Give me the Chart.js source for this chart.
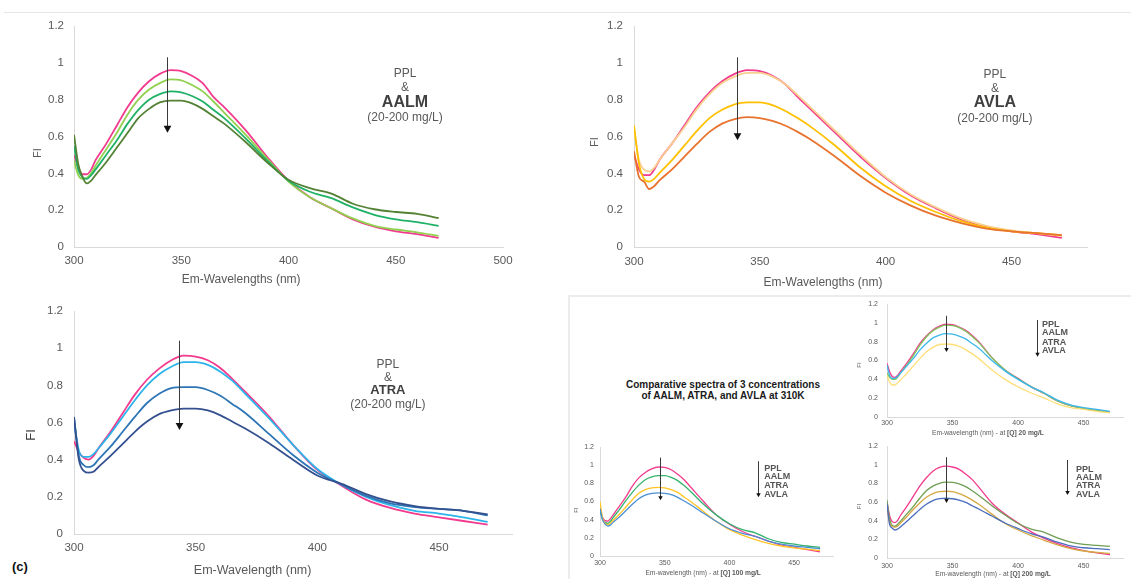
<!DOCTYPE html>
<html><head><meta charset="utf-8">
<script src="https://cdn.jsdelivr.net/npm/chart.js@4.4.1/dist/chart.umd.min.js"></script>
<style>
body{margin:0;width:1131px;height:579px;background:#fff;position:relative;overflow:hidden;font-family:"Liberation Sans",Arial,sans-serif}
canvas{position:absolute}
#sep{position:absolute;left:4px;top:12px;width:1127px;height:0;border-top:1px solid #e6e6e6}
#box{position:absolute;left:568px;top:295px;width:580px;height:300px;border-top:2px solid #ececec;border-left:2px solid #ececec}
#boxTitle{position:absolute;left:600px;top:380px;width:246px;text-align:center;font-weight:bold;font-size:10px;line-height:10.5px;color:#1a1a1a}
#lblC{position:absolute;left:12px;top:559px;font-weight:bold;font-size:13px;color:#111}
</style></head><body>
<div id="sep"></div>
<div id="box"></div>
<div id="boxTitle">Comparative spectra of 3 concentrations<br>of AALM, ATRA, and AVLA at 310K</div>
<div id="lblC">(c)</div>
<canvas id="cA"></canvas><canvas id="cB"></canvas><canvas id="cC"></canvas>
<canvas id="cD"></canvas><canvas id="cE"></canvas><canvas id="cF"></canvas>
<script>
// ---------- data ----------
const WAVELENGTHS = [300,302,304,306,308,310,315,320,325,330,335,340,345,350,355,360,365,370,380,390,400,410,420,430,440,450,460,470];
const Y_TICKS = [0,0.2,0.4,0.6,0.8,1,1.2];
const X_TICKS_A = [300,350,400,450,500];
const X_TICKS = [300,350,400,450];

// (a) PPL & AALM (20-200 mg/L)
const A_PPL   = [0.50,0.43,0.395,0.395,0.42,0.47,0.56,0.66,0.76,0.84,0.90,0.94,0.96,0.955,0.93,0.89,0.815,0.76,0.635,0.49,0.36,0.27,0.21,0.15,0.11,0.085,0.07,0.05];
const A_AALM1 = [0.47,0.39,0.37,0.375,0.40,0.44,0.53,0.62,0.72,0.80,0.855,0.89,0.91,0.905,0.88,0.845,0.79,0.73,0.61,0.48,0.355,0.27,0.21,0.155,0.115,0.095,0.08,0.06];
const A_AALM2 = [0.55,0.42,0.38,0.37,0.39,0.42,0.50,0.58,0.67,0.745,0.80,0.83,0.845,0.84,0.82,0.79,0.745,0.70,0.59,0.47,0.36,0.30,0.265,0.215,0.175,0.15,0.135,0.115];
const A_AALM3 = [0.61,0.45,0.38,0.345,0.36,0.39,0.46,0.54,0.62,0.70,0.75,0.785,0.795,0.795,0.78,0.75,0.71,0.67,0.57,0.46,0.365,0.32,0.29,0.235,0.205,0.19,0.18,0.157];
// (b) PPL & AVLA
const B_PPL   = [0.50,0.42,0.39,0.39,0.42,0.47,0.56,0.66,0.76,0.84,0.90,0.94,0.96,0.955,0.93,0.885,0.815,0.75,0.62,0.49,0.375,0.28,0.21,0.15,0.11,0.085,0.07,0.05];
const B_AVLA1 = [0.64,0.47,0.42,0.41,0.43,0.47,0.56,0.65,0.75,0.83,0.89,0.925,0.945,0.945,0.925,0.885,0.825,0.76,0.63,0.50,0.38,0.285,0.215,0.155,0.115,0.09,0.075,0.06];
const B_AVLA2 = [0.66,0.45,0.37,0.355,0.37,0.40,0.47,0.55,0.63,0.70,0.745,0.775,0.785,0.785,0.77,0.74,0.70,0.655,0.55,0.43,0.33,0.25,0.19,0.14,0.105,0.085,0.075,0.065];
const B_AVLA3 = [0.52,0.38,0.355,0.315,0.33,0.36,0.42,0.49,0.56,0.625,0.67,0.695,0.705,0.70,0.685,0.66,0.625,0.585,0.49,0.385,0.295,0.225,0.17,0.13,0.10,0.085,0.075,0.065];
// (c) PPL & ATRA
const C_PPL   = [0.50,0.44,0.41,0.40,0.42,0.46,0.55,0.65,0.75,0.83,0.89,0.935,0.96,0.955,0.935,0.895,0.835,0.77,0.635,0.48,0.345,0.26,0.185,0.14,0.11,0.09,0.07,0.05];
const C_ATRA1 = [0.60,0.45,0.415,0.415,0.43,0.46,0.54,0.63,0.72,0.80,0.86,0.90,0.925,0.925,0.91,0.875,0.825,0.76,0.625,0.48,0.35,0.265,0.20,0.155,0.125,0.11,0.09,0.065];
const C_ATRA2 = [0.63,0.42,0.37,0.36,0.37,0.40,0.47,0.55,0.63,0.705,0.755,0.785,0.79,0.79,0.775,0.745,0.70,0.655,0.54,0.425,0.33,0.265,0.205,0.165,0.145,0.135,0.125,0.10];
const C_ATRA3 = [0.63,0.40,0.34,0.33,0.335,0.36,0.42,0.485,0.55,0.605,0.645,0.665,0.675,0.675,0.665,0.64,0.605,0.57,0.49,0.40,0.315,0.27,0.215,0.175,0.15,0.135,0.125,0.105];
// [Q] 20 mg/L
const D_PPL  = [0.57,0.48,0.43,0.42,0.44,0.48,0.57,0.67,0.78,0.86,0.925,0.965,0.985,0.98,0.955,0.92,0.865,0.80,0.63,0.50,0.41,0.32,0.25,0.17,0.12,0.09,0.07,0.055];
const D_AALM = [0.47,0.42,0.40,0.40,0.42,0.46,0.55,0.65,0.76,0.85,0.915,0.955,0.975,0.97,0.95,0.91,0.855,0.79,0.63,0.50,0.405,0.32,0.25,0.17,0.12,0.09,0.07,0.05];
const D_ATRA = [0.55,0.44,0.41,0.41,0.43,0.46,0.54,0.62,0.71,0.78,0.84,0.87,0.885,0.88,0.86,0.83,0.78,0.73,0.60,0.49,0.40,0.32,0.255,0.18,0.13,0.10,0.08,0.06];
const D_AVLA = [0.44,0.37,0.34,0.34,0.36,0.39,0.46,0.54,0.62,0.69,0.74,0.77,0.775,0.77,0.75,0.715,0.67,0.62,0.50,0.40,0.32,0.255,0.20,0.14,0.10,0.08,0.06,0.045];
// [Q] 100 mg/L
const E_PPL  = [0.52,0.42,0.39,0.385,0.41,0.45,0.55,0.65,0.77,0.86,0.92,0.96,0.98,0.975,0.95,0.90,0.84,0.76,0.60,0.45,0.35,0.27,0.215,0.165,0.12,0.095,0.07,0.045];
const E_AALM = [0.50,0.40,0.37,0.36,0.38,0.42,0.51,0.61,0.70,0.78,0.84,0.87,0.885,0.885,0.865,0.83,0.775,0.71,0.57,0.45,0.355,0.29,0.255,0.19,0.15,0.13,0.11,0.095];
const E_ATRA = [0.52,0.40,0.35,0.33,0.34,0.37,0.43,0.50,0.57,0.63,0.67,0.69,0.695,0.69,0.675,0.645,0.605,0.565,0.47,0.38,0.30,0.25,0.215,0.165,0.13,0.11,0.095,0.08];
const E_AVLA = [0.60,0.42,0.36,0.345,0.36,0.39,0.46,0.54,0.62,0.69,0.73,0.75,0.755,0.75,0.73,0.70,0.65,0.60,0.49,0.38,0.29,0.23,0.18,0.14,0.11,0.09,0.075,0.06];
// [Q] 200 mg/L
const F_PPL  = [0.60,0.45,0.39,0.38,0.40,0.45,0.55,0.66,0.77,0.86,0.93,0.97,0.985,0.975,0.95,0.90,0.84,0.76,0.59,0.47,0.375,0.28,0.21,0.155,0.11,0.08,0.055,0.035];
const F_AALM = [0.62,0.42,0.35,0.34,0.36,0.39,0.47,0.55,0.64,0.72,0.77,0.80,0.812,0.81,0.795,0.765,0.72,0.67,0.56,0.46,0.37,0.31,0.275,0.215,0.17,0.145,0.135,0.125];
const F_ATRA = [0.58,0.36,0.32,0.30,0.31,0.33,0.39,0.455,0.52,0.575,0.615,0.635,0.64,0.635,0.62,0.595,0.56,0.525,0.45,0.375,0.315,0.26,0.22,0.17,0.13,0.11,0.10,0.09];
const F_AVLA = [0.55,0.38,0.34,0.33,0.34,0.37,0.44,0.52,0.59,0.65,0.69,0.71,0.715,0.71,0.69,0.66,0.62,0.575,0.47,0.37,0.30,0.24,0.19,0.14,0.10,0.075,0.06,0.05];

// text labels
const Y_TITLE = 'FI';
const X_TITLE_AB = 'Em-Wavelengths (nm)';
const X_TITLE_C = 'Em-Wavelength (nm)';
const X_TITLE_SMALL = 'Em-wavelength (nm) - at ';
const Q_LABELS = ['[Q] 20 mg/L', '[Q] 100 mg/L', '[Q] 200 mg/L'];
const NOTE_AALM = ['PPL', '&', 'AALM', '(20-200 mg/L)'];
const NOTE_AVLA = ['PPL', '&', 'AVLA', '(20-200 mg/L)'];
const NOTE_ATRA = ['PPL', '&', 'ATRA', '(20-200 mg/L)'];
const SMALL_LEGEND = ['PPL', 'AALM', 'ATRA', 'AVLA'];

// ---------- drawing ----------
const FONT = '"Liberation Sans", Arial, sans-serif';
const GRAY = '#595959';
const PINK = '#f23a8e';

const notesPlugin = {
  id: 'notes',
  afterDatasetsDraw(chart, args, opts) {
    const ctx = chart.ctx, xs = chart.scales.x, ys = chart.scales.y;
    (opts.arrows || []).forEach(a => {
      const x = Math.round(xs.getPixelForValue(a.x)) + 0.5;
      const y1 = ys.getPixelForValue(a.from), y2 = ys.getPixelForValue(a.to);
      const h = a.head;
      ctx.save();
      ctx.strokeStyle = a.color || '#3a3a3a'; ctx.lineWidth = 1;
      ctx.beginPath(); ctx.moveTo(x, y1); ctx.lineTo(x, y2 - h * 0.5); ctx.stroke();
      ctx.fillStyle = '#111';
      ctx.beginPath(); ctx.moveTo(x - h * 0.55, y2 - h); ctx.lineTo(x + h * 0.55, y2 - h); ctx.lineTo(x, y2); ctx.closePath(); ctx.fill();
      ctx.restore();
    });
    (opts.texts || []).forEach(t => {
      const x = xs.getPixelForValue(t.x), y = ys.getPixelForValue(t.y);
      const segs = t.segs || [{s: t.s, w: t.w}];
      ctx.save();
      ctx.translate(x, y);
      if (t.rot) ctx.rotate(t.rot * Math.PI / 180);
      ctx.textBaseline = 'middle'; ctx.textAlign = 'left';
      ctx.fillStyle = t.c || GRAY;
      const fontOf = w => (w || 'normal') + ' ' + t.size + 'px ' + FONT;
      let total = 0;
      segs.forEach(g => { ctx.font = fontOf(g.w); g.width = ctx.measureText(g.s).width; total += g.width; });
      let cx = t.align === 'left' ? 0 : -total / 2;
      segs.forEach(g => { ctx.font = fontOf(g.w); ctx.fillText(g.s, cx, 0); cx += g.width; });
      ctx.restore();
    });
  }
};

function makeChart(id, cfg) {
  const c = document.getElementById(id);
  const [bx, by, bw, bh] = cfg.box;
  const [l, t, r, b] = cfg.area;
  c.style.left = bx + 'px'; c.style.top = by + 'px';
  c.width = bw; c.height = bh; c.style.width = bw + 'px'; c.style.height = bh + 'px';
  const yW = l - bx, xH = by + bh - b;
  new Chart(c, {
    type: 'line',
    data: {
      labels: WAVELENGTHS,
      datasets: cfg.series.map(s => ({
        data: s[0], borderColor: s[1], borderWidth: cfg.lw, pointRadius: 0,
        fill: false, cubicInterpolationMode: 'monotone'
      }))
    },
    options: {
      responsive: false, animation: false, devicePixelRatio: 1,
      layout: { padding: { left: 0, top: t - by, right: bx + bw - r, bottom: 0 } },
      plugins: { legend: { display: false }, tooltip: { enabled: false }, notes: cfg.notes },
      scales: {
        x: {
          type: 'linear', min: 300, max: cfg.xmax,
          grid: { display: false, drawTicks: false },
          border: { display: true, color: '#d9d9d9', width: 1 },
          ticks: { padding: cfg.xtp, color: GRAY, font: { size: cfg.tf, family: FONT }, maxRotation: 0, autoSkip: false },
          afterBuildTicks: s => { s.ticks = cfg.xticks.map(v => ({ value: v })); },
          afterFit: s => { s.height = xH; }
        },
        y: {
          min: 0, max: 1.2,
          grid: { display: false, drawTicks: false },
          border: { display: true, color: '#d9d9d9', width: 1 },
          ticks: { padding: cfg.ytp, color: GRAY, font: { size: cfg.tf, family: FONT },
                   callback: v => String(Math.round(v * 10) / 10) },
          afterBuildTicks: s => { s.ticks = Y_TICKS.map(v => ({ value: v })); },
          afterFit: s => { s.width = yW; }
        }
      }
    },
    plugins: [notesPlugin]
  });
}

function bigNote(x, ys, labels, boldSize) {
  return labels.map((s, i) => ({ x: x, y: ys[i], s: s, size: i === 2 ? boldSize : 12, w: i === 2 ? 'bold' : 'normal', c: i === 2 ? '#404040' : GRAY }));
}
function smallLegend(x, ys) {
  return SMALL_LEGEND.map((s, i) => ({ x: x, y: ys[i], s: s, size: 9, w: 'bold', align: 'left', c: '#555' }));
}

// (a)
makeChart('cA', {
  box: [0, 6, 560, 288], area: [74, 26, 503, 247], xmax: 500, xticks: X_TICKS_A,
  tf: 11.5, xtp: 7, ytp: 10, lw: 1.8,
  series: [[A_AALM3, '#548235'], [A_AALM2, '#1fb266'], [A_AALM1, '#92d050'], [A_PPL, PINK]],
  notes: {
    arrows: [{ x: 343.3, from: 1.03, to: 0.62, head: 7 }],
    texts: [
      { x: 377.9, y: -0.179, s: X_TITLE_AB, size: 12 },
      { x: 283.2, y: 0.51, s: Y_TITLE, size: 11, rot: -90 },
      ...bigNote(454.3, [0.939, 0.863, 0.782, 0.70], NOTE_AALM, 16)
    ]
  }
});
// (b)
makeChart('cB', {
  box: [580, 6, 551, 288], area: [634, 26, 1087, 247], xmax: 480, xticks: X_TICKS,
  tf: 11.5, xtp: 8, ytp: 11, lw: 1.8,
  series: [[B_AVLA3, '#e8732e'], [B_AVLA2, '#ffc000'], [B_AVLA1, '#f9cf8f'], [B_PPL, PINK]],
  notes: {
    arrows: [{ x: 341, from: 1.03, to: 0.58, head: 7 }],
    texts: [
      { x: 375.1, y: -0.195, s: X_TITLE_AB, size: 12 },
      { x: 284.5, y: 0.57, s: Y_TITLE, size: 11, rot: -90 },
      ...bigNote(443.4, [0.934, 0.858, 0.782, 0.695], NOTE_AVLA, 16)
    ]
  }
});
// (c)
makeChart('cC', {
  box: [0, 291, 560, 288], area: [74, 311, 512, 534], xmax: 480, xticks: X_TICKS,
  tf: 11.5, xtp: 7, ytp: 11, lw: 1.8,
  series: [[C_ATRA3, '#34508f'], [C_ATRA2, '#2e75b6'], [C_ATRA1, '#2db4ea'], [C_PPL, PINK]],
  notes: {
    arrows: [{ x: 343, from: 1.04, to: 0.56, head: 7 }],
    texts: [
      { x: 373.4, y: -0.199, s: X_TITLE_C, size: 12.5 },
      { x: 282.7, y: 0.533, s: Y_TITLE, size: 13, rot: -90, c: '#404040' },
      ...bigNote(429, [0.91, 0.84, 0.77, 0.694], NOTE_ATRA, 13)
    ]
  }
});
// [Q] 20 mg/L
makeChart('cD', {
  box: [850, 289, 281, 151], area: [887, 304, 1123, 417], xmax: 480, xticks: X_TICKS,
  tf: 7, xtp: 2, ytp: 9, lw: 1.3,
  series: [[D_AVLA, '#ffdf7a'], [D_ATRA, '#3ab7ec'], [D_AALM, '#7cc65a'], [D_PPL, PINK]],
  notes: {
    arrows: [{ x: 345, from: 1.075, to: 0.69, head: 4 }, { x: 414.2, from: 1.03, to: 0.64, head: 4 }],
    texts: [
      { x: 377, y: -0.17, size: 6.7, segs: [{ s: X_TITLE_SMALL }, { s: Q_LABELS[0], w: 'bold' }] },
      { x: 278.6, y: 0.552, s: Y_TITLE, size: 6, rot: -90 },
      ...smallLegend(418.2, [0.977, 0.892, 0.796, 0.704])
    ]
  }
});
// [Q] 100 mg/L
makeChart('cE', {
  box: [570, 432, 268, 147], area: [600, 447, 833, 556], xmax: 480, xticks: X_TICKS,
  tf: 7, xtp: 3, ytp: 6, lw: 1.3,
  series: [[E_ATRA, '#4a8fd6'], [E_AVLA, '#ffc425'], [E_AALM, '#33b36c'], [E_PPL, PINK]],
  notes: {
    arrows: [{ x: 346, from: 1.083, to: 0.615, head: 4 }, { x: 422.2, from: 1.043, to: 0.648, head: 4 }],
    texts: [
      { x: 379.7, y: -0.187, size: 6.7, segs: [{ s: X_TITLE_SMALL }, { s: Q_LABELS[1], w: 'bold' }] },
      { x: 282, y: 0.505, s: Y_TITLE, size: 6, rot: -90 },
      ...smallLegend(426.8, [0.963, 0.87, 0.78, 0.68])
    ]
  }
});
// [Q] 200 mg/L
makeChart('cF', {
  box: [850, 431, 281, 148], area: [887, 446, 1123, 558], xmax: 480, xticks: X_TICKS,
  tf: 7, xtp: 4, ytp: 9, lw: 1.3,
  series: [[F_ATRA, '#4a6dbd'], [F_AVLA, '#d4a843'], [F_AALM, '#6f9e55'], [F_PPL, PINK]],
  notes: {
    arrows: [{ x: 345, from: 1.08, to: 0.59, head: 4 }, { x: 437.3, from: 1.05, to: 0.676, head: 4 }],
    texts: [
      { x: 380.9, y: -0.168, size: 6.7, segs: [{ s: X_TITLE_SMALL }, { s: Q_LABELS[2], w: 'bold' }] },
      { x: 278.6, y: 0.551, s: Y_TITLE, size: 6, rot: -90 },
      ...smallLegend(444.2, [0.951, 0.865, 0.776, 0.684])
    ]
  }
});
</script>
</body></html>
